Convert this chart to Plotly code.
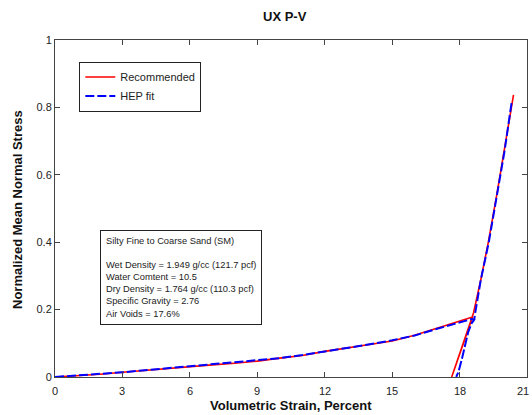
import plotly.graph_objects as go

# Recommended (red) P-V path: loading, unloading to zero, reloading
red_strain = [0, 1, 2, 3, 4, 5, 6, 7, 8, 9, 10, 11, 12, 13, 14, 15, 16, 17, 18, 18.58,
              17.65,
              18.62, 18.95, 19.28, 19.68, 20.02, 20.4]
red_stress = [0, 0.003, 0.008, 0.014, 0.02, 0.025, 0.031, 0.036, 0.041, 0.047, 0.056, 0.064,
              0.076, 0.086, 0.096, 0.107, 0.124, 0.145, 0.165, 0.178,
              0.0,
              0.19, 0.29, 0.40, 0.55, 0.68, 0.837]

# HEP fit (blue)
blue_strain = [0, 1, 2, 3, 4, 5, 6, 7, 8, 9, 10, 11, 12, 13, 14, 15, 16, 17, 18, 18.55, 18.65,
               18.54, 18.39, 18.24, 18.09, 17.95, 17.85,
               17.95, 18.09, 18.24, 18.39, 18.54, 18.65,
               18.72, 18.95, 19.3, 19.7, 20.0, 20.32]
blue_stress = [0, 0.004, 0.008, 0.014, 0.02, 0.026, 0.031, 0.037, 0.042, 0.048, 0.056, 0.065,
               0.075, 0.087, 0.097, 0.109, 0.123, 0.143, 0.162, 0.172, 0.17,
               0.16, 0.135, 0.09, 0.05, 0.015, 0.0,
               0.015, 0.05, 0.09, 0.135, 0.16, 0.17,
               0.2, 0.29, 0.40, 0.55, 0.67, 0.817]

x_min, x_max = 0, 21
x_ticks = [0, 3, 6, 9, 12, 15, 18, 21]
x_tick_text = ["0", "3", "6", "9", "12", "15", "18", "21"]
y_ticks = [0, 0.2, 0.4, 0.6, 0.8, 1]
y_tick_text = ["0", "0.2", "0.4", "0.6", "0.8", "1"]

info_lines = [
    "Silty Fine to Coarse Sand (SM)",
    "",
    "Wet Density = 1.949 g/cc (121.7 pcf)",
    "Water Comtent = 10.5",
    "Dry Density = 1.764 g/cc (110.3 pcf)",
    "Specific Gravity = 2.76",
    "Air Voids = 17.6%",
]

FONT = "Arial, Liberation Sans, sans-serif"
W, H = 532, 415
L, R, T, B = 55, 5, 40, 38
PW, PH = W - L - R, H - T - B

fig = go.Figure()
fig.add_trace(go.Scatter(x=red_strain, y=red_stress, mode="lines", name="Recommended",
                         line=dict(color="#ff0000", width=1.6)))
fig.add_trace(go.Scatter(x=blue_strain, y=blue_stress, mode="lines", name="HEP fit",
                         line=dict(color="#0000ff", width=2, dash="9px,3px")))

axis_common = dict(showline=True, linecolor="#444444", linewidth=1, mirror="ticks",
                   ticks="inside", ticklen=5, tickcolor="#444444", showgrid=False,
                   zeroline=False, automargin=False,
                   tickfont=dict(family=FONT, size=11, color="#222222"))

fig.update_layout(
    width=W, height=H,
    margin=dict(l=L, r=R, t=T, b=B, autoexpand=False),
    paper_bgcolor="white", plot_bgcolor="white",
    font=dict(family=FONT, color="#222222"),
    xaxis=dict(range=[x_min, x_max], tickvals=x_ticks, showticklabels=False, **axis_common),
    yaxis=dict(range=[0, 1], tickvals=y_ticks, ticktext=y_tick_text, **axis_common),
    legend=dict(x=0.0515, y=0.936, xanchor="left", yanchor="top",
                bgcolor="white", bordercolor="#222222", borderwidth=1,
                font=dict(family=FONT, size=11, color="#222222"),
                tracegroupgap=0, itemwidth=30),
    showlegend=True,
)

# x tick labels (paper-referenced annotations so the edge label "21" stays on the page)
for xv, lab in zip(x_ticks, x_tick_text):
    last = xv == x_max
    fig.add_annotation(xref="paper", yref="paper", x=(xv - x_min) / (x_max - x_min),
                       y=(H - B - 391) / PH,
                       text=lab, showarrow=False,
                       xanchor="right" if last else "center", xshift=4 if last else 0,
                       yanchor="middle",
                       font=dict(family=FONT, size=11, color="#222222"))

# title
fig.add_annotation(xref="paper", yref="paper", x=(285 - L) / PW, y=(H - B - 17) / PH,
                   text="<b>UX P-V</b>", showarrow=False, xanchor="center", yanchor="middle",
                   font=dict(family=FONT, size=13, color="#111111"))
# x title
fig.add_annotation(xref="paper", yref="paper", x=(291 - L) / PW, y=(H - B - 405) / PH,
                   text="<b>Volumetric Strain, Percent</b>", showarrow=False,
                   xanchor="center", yanchor="middle",
                   font=dict(family=FONT, size=13, color="#111111"))
# y title
fig.add_annotation(xref="paper", yref="paper", x=(17 - L) / PW, y=(H - B - 210) / PH,
                   text="<b>Normalized Mean Normal Stress</b>", showarrow=False, textangle=-90,
                   xanchor="center", yanchor="middle",
                   font=dict(family=FONT, size=13, color="#111111"))

fig.add_annotation(
    xref="paper", yref="paper", x=(100 - L) / PW, y=(H - B - 230) / PH,
    xanchor="left", yanchor="top",
    text="<br>".join(info_lines), showarrow=False, align="left",
    font=dict(family=FONT, size=9.3, color="#222222"),
    bordercolor="#222222", borderwidth=1, borderpad=5, bgcolor="white",
)

fig.write_html("out.html", config={"displayModeBar": False},
               post_script="document.body.style.margin='0px';document.body.style.overflow='hidden';")
